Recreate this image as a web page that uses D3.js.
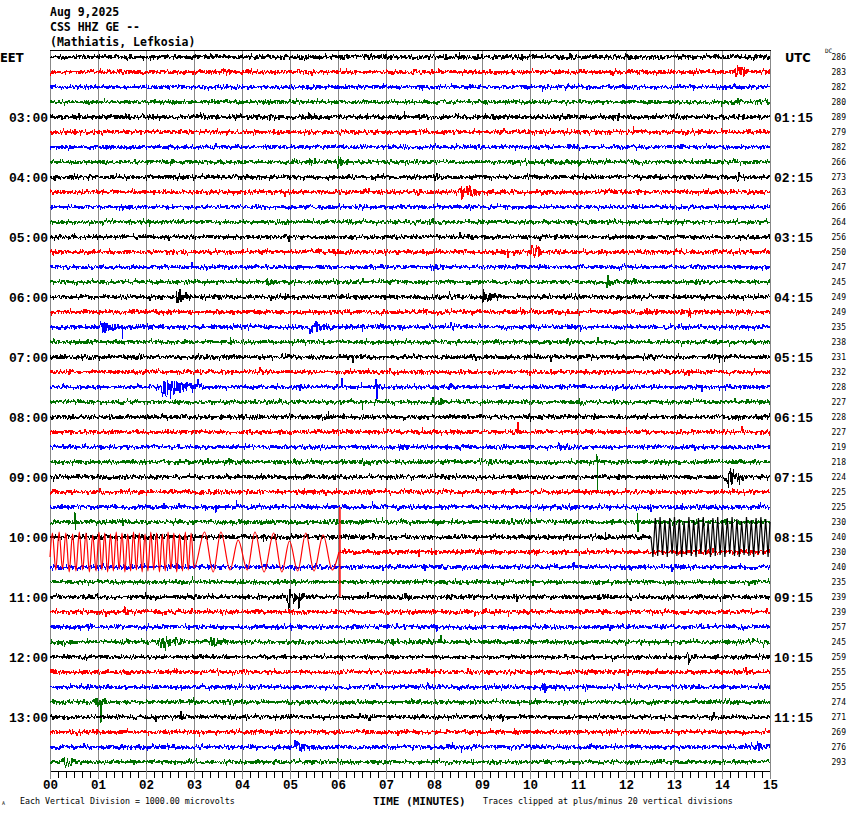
<!DOCTYPE html>
<html><head><meta charset="utf-8">
<script src="https://cdn.jsdelivr.net/npm/d3@7"></script>
<style>body{margin:0;background:#fff}svg{display:block}</style>
</head><body>
<svg id="c" width="850" height="814"></svg>
<script>
// ---------------- DATA ----------------
const titleLines = ["Aug 9,2025", "CSS HHZ GE --", "(Mathiatis, Lefkosia)"];
const traceColors = ["#000000", "#ff0000", "#0000ff", "#007000"];
const rowCount = 48;
const leftLabels = ["EET","03:00","04:00","05:00","06:00","07:00","08:00","09:00","10:00","11:00","12:00","13:00"];
const rightLabels = ["UTC","01:15","02:15","03:15","04:15","05:15","06:15","07:15","08:15","09:15","10:15","11:15"];
const dcValues = [286,283,282,280,289,279,282,266,273,263,266,264,256,250,247,245,249,249,235,238,231,232,228,227,
                  228,227,219,218,224,225,225,230,240,230,240,235,239,239,257,245,259,255,255,274,271,269,276,293];
const minuteLabels = ["00","01","02","03","04","05","06","07","08","09","10","11","12","13","14","15"];
// background noise half-band per trace (vertical divisions)
const noiseLevel = [2.2,2,1.8,1.8,2.2,2,1.8,1.8,2,2,1.8,1.8,1.8,2,1.8,1.8,2,2,2,1.8,2,2,1.8,1.8,
                    2,2,1.8,2,2,2,2,2,2,2,2,1.8,2,2,2,2,1.8,2,2,2,1.8,2,2,1.8];
// local events: [row, startMinute, endMinute, amplitude(divisions)]
const events = [
 [1,3.55,3.75,4],[1,14.25,14.6,8],[2,6.7,6.95,3],[2,5.3,5.5,3],[3,14.0,15.0,2.5],
 [7,5.4,5.6,5],[7,5.95,6.2,8],[8,6.65,6.9,4],[8,11.45,11.6,3],[8,14.3,14.45,5],
 [9,8.5,9.0,9],[9,10.6,10.75,4],[11,1.3,1.45,3],[12,8.05,8.15,3],
 [13,9.45,9.6,5],[13,10.0,10.3,9],[14,7.9,8.2,3],[15,4.45,4.75,6],[15,11.55,11.8,8],
 [16,2.0,2.15,4],[16,2.6,2.95,9],[16,8.95,9.45,7],[17,13.3,13.4,4],
 [18,1.0,1.55,8],[18,5.35,5.85,9],[18,8.3,8.7,3],[19,10.75,10.95,5],[20,1.85,2.0,3],
 [22,2.2,3.2,10],[22,6.75,6.95,9],[22,8.25,8.45,6],[23,7.9,8.2,6],[23,11.0,11.15,4],
 [24,5.7,5.9,3],[24,10.2,10.4,3],[25,9.6,9.85,5],[25,12.4,12.55,5],[26,10.55,10.9,5],
 [27,3.7,3.85,4],[28,14.05,14.45,10],[31,7.3,7.45,4],[32,11.5,11.7,4],[33,7.9,8.1,3],
 [36,4.9,5.3,11],[36,7.3,7.7,6],[36,1.95,2.05,4],[37,9.0,9.2,4],[38,2.5,2.7,4],[38,7.35,7.5,4],
 [39,2.2,2.9,7],[39,3.3,3.7,8],[39,7.1,7.3,5],[40,12.25,12.4,3],[40,13.25,13.45,6],
 [42,4.3,4.45,4],[42,10.25,10.4,6],[43,0.9,1.2,5],[44,2.7,2.9,5],[44,6.6,6.8,4],
 [46,5.05,5.5,7],[46,14.7,15.0,5],[47,0.25,0.5,7]
];
// single spikes: [row, minute, up, down]
const spikes = [
 [3,13.98,0,5],[12,4.97,0,5],[12,10.2,0,4],[14,2.96,5,0],[17,13.33,0,6],[18,1.5,0,12],
 [22,6.08,9,0],[22,6.8,0,12],[22,2.5,0,12],[22,3.08,8,0],[23,6.5,0,8],[24,5.8,6,0],
 [25,9.75,10,0],[27,11.4,8,28],[28,14.35,0,8],[30,3.89,7,0],[30,14.8,5,0],
 [31,0.52,10,8],[31,12.24,9,10],[35,2.97,6,0],[36,5.18,0,12],[39,2.4,0,9],[39,8.15,7,0],
 [40,13.3,0,6],[41,8.0,0,5],[41,14.5,5,0],[42,10.3,0,6],[43,1.05,0,21]
];
// large clipped oscillation on the red trace (row 33): [minute, divisions]
const redWaveRow = 33;
const redWave = [
 [0.00,-5],[0.05,19],[0.12,-18],[0.19,20],[0.26,-17],[0.33,19],[0.40,-20],[0.47,18],[0.54,-19],[0.61,20],
 [0.68,-18],[0.75,19],[0.82,-20],[0.89,17],[0.96,-19],[1.02,20],[1.08,-18],[1.14,19],[1.20,-20],[1.26,18],
 [1.32,-19],[1.38,20],[1.44,-17],[1.50,19],[1.56,-20],[1.62,18],[1.68,-19],[1.74,20],[1.80,-18],[1.86,19],
 [1.92,-20],[1.98,18],[2.04,-19],[2.10,20],[2.16,-18],[2.22,19],[2.28,-20],[2.34,18],[2.40,-19],[2.46,20],
 [2.52,-17],[2.58,19],[2.64,-20],[2.70,18],[2.76,-19],[2.82,20],[2.88,-18],[2.94,19],[3.00,-16],
 [3.22,20],[3.40,-20],[3.56,20],[3.75,-18],[3.92,12],[4.11,-18],[4.27,20],[4.46,-20],[4.66,19],
 [4.83,-20],[4.99,11],[5.16,-19],[5.33,19],[5.50,-19],[5.69,17],[5.88,-18],[6.02,0]
];
const redStep = [6.04, 45, -45]; // minute, top, bottom of the vertical step
// large clipped oscillation on the black trace (row 32)
const blackWaveRow = 32;
const blackWave = [
 [12.52,0],[12.56,-20],[12.61,19],[12.66,-19],[12.71,20],[12.76,-18],[12.81,17],[12.86,-20],[12.91,19],
 [12.96,-17],[13.01,20],[13.06,-19],[13.11,18],[13.16,-20],[13.21,16],[13.26,-18],[13.31,20],[13.36,-19],
 [13.41,17],[13.46,-20],[13.51,19],[13.56,-17],[13.61,20],[13.66,-18],[13.71,15],[13.76,-20],[13.81,19],
 [13.86,-19],[13.91,20],[13.96,-18],[14.01,17],[14.06,-20],[14.11,19],[14.16,-17],[14.21,20],[14.26,-19],
 [14.31,18],[14.36,-20],[14.41,16],[14.46,-18],[14.51,20],[14.56,-19],[14.61,17],[14.66,-20],[14.71,19],
 [14.76,-17],[14.81,20],[14.86,-18],[14.91,18],[14.96,-20],[15.00,15]
];

// ---------------- CHART ----------------
const svg = d3.select("#c");
const x = d3.scaleLinear().domain([0, 15]).range([50, 770]);
const row = d3.scaleLinear().domain([0, rowCount - 1]).range([57, 762]);
const amp = d3.scaleLinear().domain([-20, 20]).range([20, -20]);
const color = i => traceColors[i % 4];

// gridlines
svg.append("g").selectAll("line").data(d3.range(0, 16)).join("line")
  .attr("x1", d => Math.round(x(d)) + 0.5).attr("x2", d => Math.round(x(d)) + 0.5)
  .attr("y1", 50).attr("y2", 779).attr("stroke", "#888").attr("stroke-width", 1);
svg.append("line").attr("x1", 50).attr("x2", 771).attr("y1", 50.5).attr("y2", 50.5)
  .attr("stroke", "#000");

// deterministic trace texture (unreadable background micro-noise)
function texture(seed) {
  let s = seed >>> 0;
  return () => { s = (s + 0x6D2B79F5) >>> 0; let t = s;
    t = Math.imul(t ^ (t >>> 15), t | 1); t ^= t + Math.imul(t ^ (t >>> 7), t | 61);
    return ((t ^ (t >>> 14)) >>> 0) / 4294967296; };
}
const step = 1 / 96;
const line = d3.line().x(d => x(d[0])).y(d => d[2] + amp(d[1]));

for (let r = 0; r < rowCount; r++) {
  const rnd = texture(r * 7919 + 17);
  const y0 = row(r);
  const evs = events.filter(e => e[0] === r);
  const sps = spikes.filter(s => s[0] === r);
  let pts = [];
  const n = Math.round(15 / step);
  for (let k = 0; k <= n; k++) {
    const t = k * step;
    let v = (rnd() + rnd() + rnd() + rnd() - 2) * noiseLevel[r];
    if (rnd() > 0.97) v *= 1.8;
    for (const e of evs) {
      if (t >= e[1] && t <= e[2]) {
        const d = e[2] - e[1], rise = 0.15 * d;
        const env = t < e[1] + rise ? (t - e[1]) / rise : Math.exp(-1.6 * (t - e[1] - rise) / d);
        v += (rnd() * 2 - 1) * e[3] * env;
      }
    }
    pts.push([t, v, y0]);
  }
  for (const s of sps) {
    const k = Math.round(s[1] / step);
    if (s[2]) pts[k][1] = s[2];
    if (s[3] && pts[k + 1]) pts[k + 1][1] = -s[3];
  }
  let seg = pts;
  if (r === redWaveRow) seg = pts.filter(p => p[0] >= redStep[0]);
  if (r === blackWaveRow) seg = pts.filter(p => p[0] <= blackWave[0][0]);
  svg.append("path").attr("d", line(seg)).attr("fill", "none")
    .attr("stroke", color(r)).attr("stroke-width", 1).attr("shape-rendering", "crispEdges");
}
// big oscillations
const waveLine = d3.line().x(d => x(d[0])).y(d => d[2] + amp(d[1])).curve(d3.curveMonotoneX);
svg.append("path").attr("d", waveLine(redWave.map(d => [d[0], d[1], row(redWaveRow)])))
  .attr("fill", "none").attr("stroke", color(redWaveRow)).attr("stroke-width", 1.2);
svg.append("path").attr("d", d3.line()([[x(redStep[0]), row(redWaveRow) + amp(redStep[1])], [x(redStep[0]), row(redWaveRow) + amp(redStep[2])]]))
  .attr("stroke", color(redWaveRow)).attr("stroke-width", 1.5);
svg.append("path").attr("d", d3.line().x(d => x(d[0])).y(d => d[2] + amp(d[1]))(blackWave.map(d => [d[0], d[1], row(blackWaveRow)])))
  .attr("fill", "none").attr("stroke", color(blackWaveRow)).attr("stroke-width", 1.2);

// bottom axis
const minor = d3.axisBottom(x).tickValues(d3.range(0, 91).map(d => d / 6)).tickSize(7).tickFormat("");
const ga = svg.append("g").attr("transform", "translate(0,771)").call(minor);
ga.select(".domain").attr("stroke", "#000").attr("d", "M50,0.5H770");
ga.selectAll(".tick line").attr("stroke", "#000").attr("shape-rendering", "crispEdges");
const major = d3.axisBottom(x).tickValues(d3.range(0, 16)).tickSize(8).tickPadding(1)
  .tickFormat((d, i) => minuteLabels[i]);
const gm = svg.append("g").attr("transform", "translate(0,771)").call(major);
gm.select(".domain").remove();
gm.selectAll(".tick line").attr("stroke", "#888");
gm.selectAll("text").attr("font-family", "Liberation Mono, monospace").attr("font-weight", "bold")
  .attr("font-size", 12.5).attr("fill", "#000");

// titles
svg.append("g").selectAll("text").data(titleLines).join("text")
  .attr("x", 50).attr("y", (d, i) => 16 + i * 15).text(d => d)
  .attr("font-family", "DejaVu Sans Mono, monospace").attr("font-weight", "bold").attr("font-size", 11.5);

// left / right labels
svg.append("g").selectAll("text").data(leftLabels).join("text")
  .attr("x", (d, i) => i === 0 ? 0 : 48).attr("text-anchor", (d, i) => i === 0 ? "start" : "end")
  .attr("y", (d, i) => row(i * 4) + 4.5).text(d => d)
  .attr("font-family", (d, i) => i === 0 ? "DejaVu Sans, sans-serif" : "Liberation Mono, monospace")
  .attr("font-weight", "bold").attr("font-size", (d, i) => i === 0 ? 11.5 : 13);
svg.append("g").selectAll("text").data(rightLabels).join("text")
  .attr("x", (d, i) => i === 0 ? 785 : 774)
  .attr("y", (d, i) => row(i * 4) + 4.5).text(d => d)
  .attr("font-family", (d, i) => i === 0 ? "DejaVu Sans, sans-serif" : "Liberation Mono, monospace")
  .attr("font-weight", "bold").attr("font-size", (d, i) => i === 0 ? 11.5 : 13);
svg.append("g").selectAll("text").data(dcValues).join("text")
  .attr("x", 846).attr("text-anchor", "end").attr("y", (d, i) => row(i) + 3).text(d => d)
  .attr("font-family", "DejaVu Sans Mono, monospace").attr("font-size", 8);
svg.append("text").attr("x", 825).attr("y", 53).text("DC")
  .attr("font-family", "DejaVu Sans Mono, monospace").attr("font-size", 6);

// footer texts
svg.append("text").attr("x", 20).attr("y", 804).text("Each Vertical Division = 1000.00 microvolts")
  .attr("font-family", "DejaVu Sans Mono, monospace").attr("font-size", 8.3);
svg.append("text").attr("x", 483).attr("y", 804).text("Traces clipped at plus/minus 20 vertical divisions")
  .attr("font-family", "DejaVu Sans Mono, monospace").attr("font-size", 8.3);
svg.append("text").attr("x", 373).attr("y", 805).text("TIME (MINUTES)")
  .attr("font-family", "DejaVu Sans Mono, monospace").attr("font-weight", "bold").attr("font-size", 11);
svg.append("text").attr("x", 2).attr("y", 805).text("A")
  .attr("font-family", "DejaVu Sans Mono, monospace").attr("font-size", 5);
</script>
</body></html>
